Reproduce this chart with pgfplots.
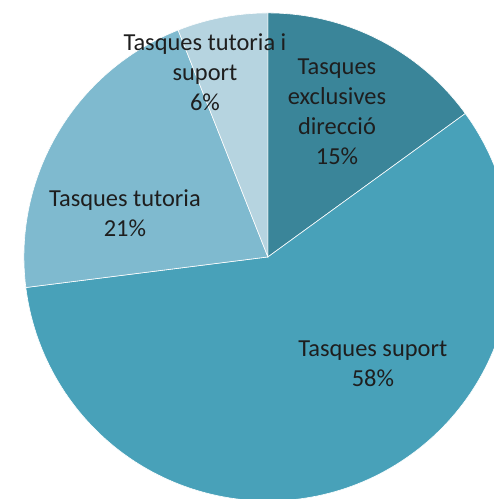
\documentclass[border=0pt]{standalone}
\usepackage{pgfplots}
\pgfplotsset{compat=1.18}
\usepackage{pgfplotstable}
\usepackage{fontspec}
\setmainfont{Carlito}
\definecolor{slA}{HTML}{3A8599}
\definecolor{slB}{HTML}{48A1B9}
\definecolor{slC}{HTML}{7FBACF}
\definecolor{slD}{HTML}{B6D4E0}
\definecolor{txt}{HTML}{1E1E1E}

% share of each task group, clockwise from 12 o'clock
\pgfplotstableread{
share colour
15 slA
58 slB
21 slC
6  slD
}\piedata

\begin{document}
\begin{tikzpicture}
\begin{axis}[
    x=244bp, y=244bp,
    xmin=-1.098, xmax=0.926,
    ymin=-0.992, ymax=1.053,
    hide axis,
    clip=true,
]
\def\angA{90}
\pgfplotsforeachungrouped \i in {0,...,3}{
    \pgfplotstablegetelem{\i}{share}\of\piedata \let\v\pgfplotsretval
    \pgfplotstablegetelem{\i}{colour}\of\piedata \let\c\pgfplotsretval
    \pgfmathsetmacro\angB{\angA-3.6*\v}
    \pgfmathsetmacro\xA{cos(\angA)}
    \pgfmathsetmacro\yA{sin(\angA)}
    \edef\wedge{\noexpand\fill[\c, draw=white, line width=0.6bp]
        (axis cs:0,0) -- (axis cs:\xA,\yA)
        arc[start angle=\angA, end angle=\angB, radius=244bp] -- cycle;}
    \wedge
    \global\let\angA\angB
}
\tikzset{lab/.style={align=center, text=txt, font=\fontsize{24.5}{30}\selectfont}}
\node[lab] at (axis cs:0.283,0.594) {Tasques\\exclusives\\direcció\\15\%};
\node[lab] at (axis cs:0.430,-0.439) {Tasques suport\\58\%};
\node[lab] at (axis cs:-0.586,0.180) {Tasques tutoria\\21\%};
\node[lab] at (axis cs:-0.258,0.758) {Tasques tutoria i\\suport\\6\%};
\end{axis}
\pgfresetboundingbox
\useasboundingbox (current axis.south west) rectangle (current axis.north east);
\end{tikzpicture}
\end{document}
